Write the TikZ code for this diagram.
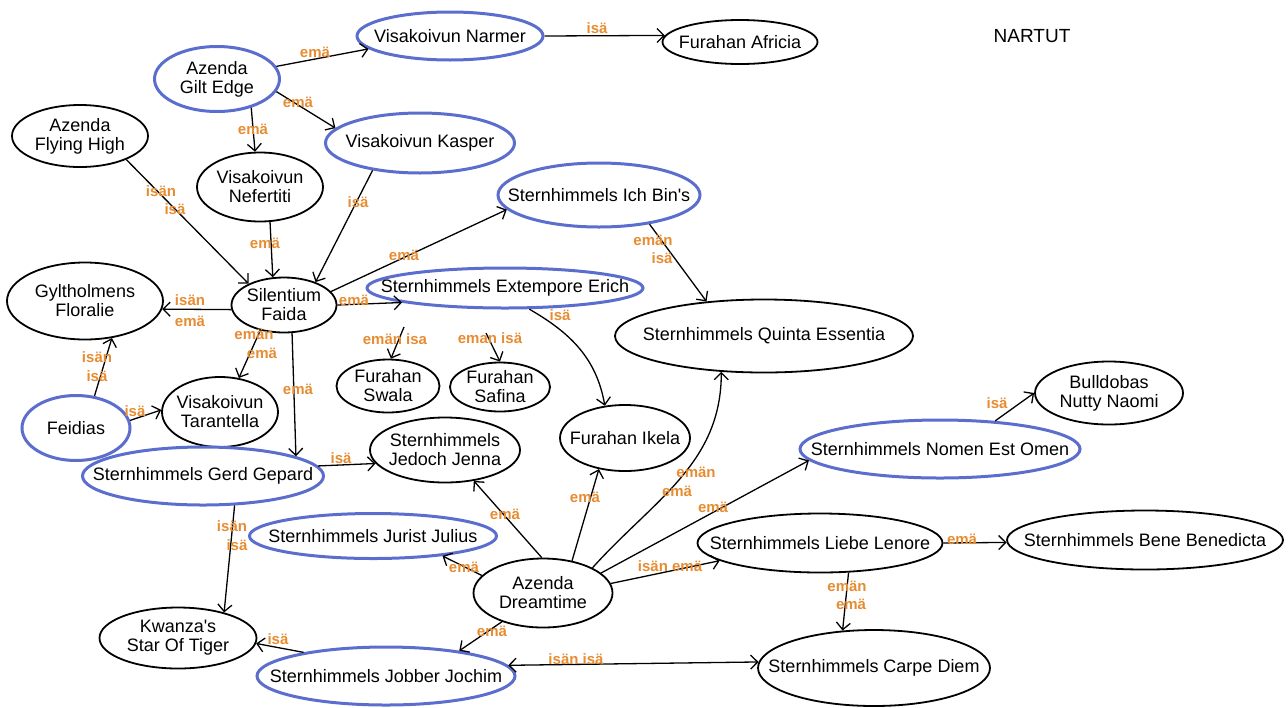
\documentclass[tikz,border=0pt]{standalone}
\usepackage{fontspec}
\setmainfont{Liberation Sans}
\usetikzlibrary{shapes.geometric, arrows.meta}
\definecolor{dogblue}{RGB}{92,110,205}
\definecolor{lblorange}{RGB}{230,140,50}

\begin{document}
\begin{tikzpicture}[x=.5pt, y=-.5pt,
    dims/.style 2 args={minimum width=#1*0.5pt, minimum height=#2*0.5pt},
    dog/.style={ellipse, draw, line width=.9pt, inner xsep=-90pt, inner ysep=-30pt,
      align=center, font=\fontsize{9}{9.5}\selectfont},
    bluedog/.style={dog, draw=dogblue, line width=1.5pt},
    lbl/.style={inner sep=0pt, text=lblorange, font=\fontsize{7.5}{8}\selectfont\bfseries},
    arr/.style={-{Straight Barb[length=3.5pt,width=7pt]}, line width=.65pt},
    arrboth/.style={{Straight Barb[length=3.5pt,width=7pt]}-{Straight Barb[length=3.5pt,width=7pt]}, line width=.65pt}]

      \useasboundingbox (0,0) rectangle (1288,707);

      \node[bluedog, dims={186}{48}] (narmer) at (450,36) {Visakoivun Narmer};
      \node[dog, dims={155}{44}] (africia) at (740,42) {Furahan Africia};
      \node[font=\fontsize{9.5}{10}\selectfont] (nartut) at (1032,36) {NARTUT};
      \node[bluedog, dims={125}{65}] (gilt) at (217,79) {Azenda\\Gilt Edge};
      \node[dog, dims={136}{62}] (flying) at (80,136) {Azenda\\Flying High};
      \node[dog, dims={126}{69}] (nefertiti) at (260,187) {Visakoivun\\Nefertiti};
      \node[bluedog, dims={189}{60}] (kasper) at (420,143) {Visakoivun Kasper};
      \node[bluedog, dims={202}{64}] (ichbin) at (599,195) {Sternhimmels Ich Bin\textquotesingle s};

      \node[dog, dims={105}{55}] (faida) at (284,305) {Silentium\\Faida};
      \node[dog, dims={156}{77}] (floralie) at (85,301) {Gyltholmens\\Floralie};
      \node[bluedog, dims={276}{40}] (erich) at (505,288) {Sternhimmels Extempore Erich};
      \node[dog, dims={103}{53}] (swala) at (388,386) {Furahan\\Swala};
      \node[dog, dims={100}{49}] (safina) at (500,387) {Furahan\\Safina};
      \node[dog, dims={298}{73}] (quinta) at (764,336) {Sternhimmels Quinta Essentia};
      \node[dog, dims={116}{70}] (tarantella) at (220,412) {Visakoivun\\Tarantella};
      \node[bluedog, dims={108}{65}] (feidias) at (76,428) {Feidias};
      \node[bluedog, dims={241}{58}] (gerd) at (203,476) {Sternhimmels Gerd Gepard};
      \node[dog, dims={150}{65}] (jenna) at (445,450) {Sternhimmels\\Jedoch Jenna};
      \node[dog, dims={130}{66}] (ikela) at (625,438) {Furahan Ikela};
      \node[dog, dims={148}{63}] (naomi) at (1109,393) {Bulldobas\\Nutty Naomi};
      \node[bluedog, dims={280}{58}] (nomen) at (940,449) {Sternhimmels Nomen Est Omen};

      \node[bluedog, dims={247}{45}] (julius) at (373,536) {Sternhimmels Jurist Julius};
      \node[dog, dims={139}{69}] (dreamtime) at (543,593) {Azenda\\Dreamtime};
      \node[dog, dims={245}{59}] (lenore) at (820,543) {Sternhimmels Liebe Lenore};
      \node[dog, dims={276}{59}] (benedicta) at (1145,540) {Sternhimmels Bene Benedicta};
      \node[dog, dims={157}{61}] (kwanza) at (178,638) {Kwanza\textquotesingle s\\Star Of Tiger};
      \node[bluedog, dims={258}{58}] (jochim) at (386,676) {Sternhimmels Jobber Jochim};
      \node[dog, dims={232}{76}] (carpe) at (874,668) {Sternhimmels Carpe Diem};

      \coordinate (swalastub) at (404,327);
      \coordinate (safinastub) at (486,333);

      \draw[arr] (gilt.12) -- (narmer.189);
      \draw[arr] (narmer.0) -- (africia.175);
      \draw[arr] (gilt.-12) -- (kasper.170);
      \draw[arr] (gilt.-40) -- (nefertiti.98);
      \draw[arr] (flying.-27) -- (faida.149);
      \draw[arr] (nefertiti.-74) -- (faida.112);
      \draw[arr] (kasper.210) -- (faida.36);
      \draw[arr] (faida.16) -- (ichbin.189);
      \draw[arr] (faida.0) -- (erich.188);
      \draw[arr] (faida.185) -- (floralie.-6);
      \draw[arr] (faida.227) -- (tarantella.61);
      \draw[arr] (faida.-74) -- (gerd.12);
      \draw[arr] (feidias.60) -- (floralie.-54);
      \draw[arr] (feidias.8) -- (tarantella.178);
      \draw[arr] (swalastub) -- (swala.84);
      \draw[arr] (safinastub) -- (safina.north);
      \draw[arr] (erich.-41) to[out=-30, in=100] (ikela.122);
      \draw[arr] (ichbin.-30) -- (quinta.149);

      \draw[arr] (dreamtime.92) -- (jenna.-47);
      \draw[arr] (dreamtime.48) -- (ikela.-130);
      \draw[arr] (dreamtime.27) to[out=48, in=-90] (quinta.220);
      \draw[arr] (dreamtime.19) -- (nomen.185);
      \draw[arr] (dreamtime.8) -- (lenore.190);
      \draw[arr] (dreamtime.164) -- (julius.-16);
      \draw[arr] (dreamtime.215) -- (jochim.19);
      \draw[arr] (gerd.5) -- (jenna.191);
      \draw[arr] (gerd.-43) -- (kwanza.29);
      \draw[arr] (jochim.164) -- (kwanza.-4);
      \draw[arrboth] (jochim.5) -- (carpe.177);
      \draw[arr] (lenore.0) -- (benedicta.181);
      \draw[arr] (lenore.-46) -- (carpe.130);
      \draw[arr] (nomen.27) -- (naomi.180);

      \node[lbl] (lnarmer) at (315,52) {emä};
      \node[lbl] (lafricia) at (597,28) {isä};
      \node[lbl] (lkasper) at (298,102) {emä};
      \node[lbl] (lnefertiti) at (253,129) {emä};
      \node[lbl] (lflyinga) at (161,191) {isän};
      \node[lbl] (lflyingb) at (175,209) {isä};
      \node[lbl] (lkasperfaida) at (358,202) {isä};
      \node[lbl] (lnefertitifaida) at (265,243) {emä};
      \node[lbl] (lichbin) at (404,255) {emä};
      \node[lbl] (lerich) at (354,300) {emä};
      \node[lbl] (lfloraliea) at (190,300) {isän};
      \node[lbl] (lfloralieb) at (190,321) {emä};
      \node[lbl] (ltarantellaa) at (254,334) {emän};
      \node[lbl] (ltarantellab) at (262,353) {emä};
      \node[lbl] (lgerd) at (298,389) {emä};
      \node[lbl] (lfeidiasa) at (97,357) {isän};
      \node[lbl] (lfeidiasb) at (97,376) {isä};
      \node[lbl] (lfeidiastar) at (135,411) {isä};
      \node[lbl] (lswala) at (395,339) {emän isa};
      \node[lbl] (lsafina) at (490,338) {eman isä};
      \node[lbl] (likela) at (560,315) {isä};
      \node[lbl] (lquintaa) at (653,240) {emän};
      \node[lbl] (lquintab) at (662,258) {isä};

      \node[lbl] (ljenna) at (341,458) {isä};
      \node[lbl] (ldreamjenna) at (505,514) {emä};
      \node[lbl] (ldreamikela) at (585,497) {emä};
      \node[lbl] (ldreamquintaa) at (696,472) {emän};
      \node[lbl] (ldreamquintab) at (677,491) {emä};
      \node[lbl] (lnomen) at (713,507) {emä};
      \node[lbl] (llenore) at (670,566) {isän emä};
      \node[lbl] (ljulius) at (464,567) {emä};
      \node[lbl] (ljochim) at (492,631) {emä};
      \node[lbl] (lcarpe) at (576,659) {isän isä};
      \node[lbl] (lbenedicta) at (962,539) {emä};
      \node[lbl] (lcarpea) at (847,586) {emän};
      \node[lbl] (lcarpeb) at (851,604) {emä};
      \node[lbl] (lkwanzaa) at (232,526) {isän};
      \node[lbl] (lkwanzab) at (237,545) {isä};
      \node[lbl] (ljochimkwanza) at (278,639) {isä};
      \node[lbl] (lnaomi) at (997,403) {isä};
    \end{tikzpicture}
\end{document}
